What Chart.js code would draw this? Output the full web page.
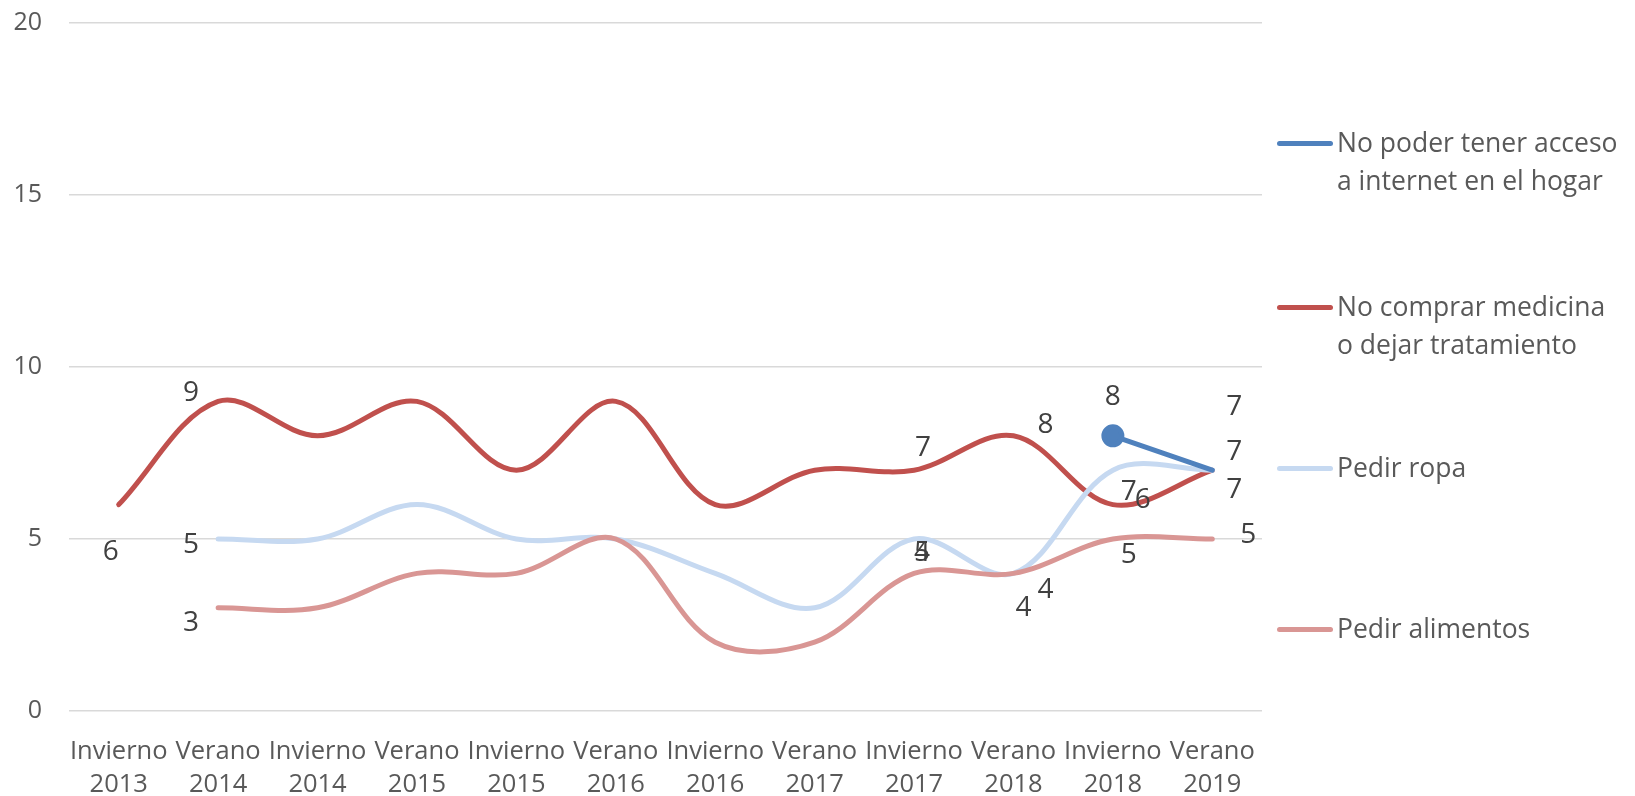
<!DOCTYPE html>
<html>
<head>
<meta charset="utf-8">
<script src="https://cdn.jsdelivr.net/npm/chart.js@4/dist/chart.umd.min.js"></script>
<style>
  body { margin: 0; background: #fff; overflow: hidden; }
  #wrap { position: relative; width: 1635px; height: 796px; overflow: hidden; }
  #chart { position: absolute; left: 0; top: -19px; }
  #legend { position: absolute; left: 1277px; top: 0; font-family: "Open Sans", sans-serif; font-size: 26.5px; color: #595959; }
  .item { position: absolute; left: 0; white-space: nowrap; display: flex; align-items: flex-start; }
  .swatch { width: 56px; height: 5px; border-radius: 3px; margin-top: 18px; margin-right: 4px; }
  .txt { line-height: 38px; }
</style>
</head>
<body>
<div id="wrap">
  <canvas id="chart" width="1635" height="815"></canvas>
  <div id="legend"></div>
</div>
<script>
const seasons = ['Invierno', 'Verano', 'Invierno', 'Verano', 'Invierno', 'Verano', 'Invierno', 'Verano', 'Invierno', 'Verano', 'Invierno', 'Verano'];
const years = ['2013', '2014', '2014', '2015', '2015', '2016', '2016', '2017', '2017', '2018', '2018', '2019'];

const internet = [null, null, null, null, null, null, null, null, null, null, 8, 7];
const medicina = [6, 9, 8, 9, 7, 9, 6, 7, 7, 8, 6, 7];
const ropa = [null, 5, 5, 6, 5, 5, 4, 3, 5, 4, 7, 7];
const alimentos = [null, 3, 3, 4, 4, 5, 2, 2, 4, 4, 5, 5];

const yTicks = [0, 5, 10, 15, 20];

const SERIES_NAMES = [
  ['No poder tener acceso', 'a internet en el hogar'],
  ['No comprar medicina', 'o dejar tratamiento'],
  ['Pedir ropa'],
  ['Pedir alimentos']
];
const COLORS = ['#4F81BD', '#C0504D', '#C6D9F1', '#D99694'];
const LEGEND_TOPS = [123, 287, 448, 609];

// which point labels are shown, and where they sit relative to the point
const labelSpots = [
  { ds: 1, i: 0, dx: -8, dy: 47 },
  { ds: 1, i: 1, dx: -27, dy: -8 },
  { ds: 2, i: 1, dx: -27, dy: 6 },
  { ds: 3, i: 1, dx: -27, dy: 15 },
  { ds: 1, i: 8, dx: 9, dy: -22 },
  { ds: 2, i: 8, dx: 8, dy: 14 },
  { ds: 3, i: 8, dx: 8, dy: -20 },
  { ds: 1, i: 9, dx: 32, dy: -11 },
  { ds: 2, i: 9, dx: 10, dy: 35 },
  { ds: 3, i: 9, dx: 32, dy: 17 },
  { ds: 0, i: 10, dx: 0, dy: -39 },
  { ds: 2, i: 10, dx: 16, dy: 22 },
  { ds: 1, i: 10, dx: 30, dy: -5 },
  { ds: 3, i: 10, dx: 16, dy: 16 },
  { ds: 0, i: 11, dx: 22, dy: -63 },
  { ds: 2, i: 11, dx: 22, dy: -18 },
  { ds: 1, i: 11, dx: 22, dy: 20 },
  { ds: 3, i: 11, dx: 36, dy: -4 }
];

const pointLabels = {
  id: 'pointLabels',
  afterDatasetsDraw(chart) {
    const ctx = chart.ctx;
    ctx.save();
    ctx.font = '28px "Open Sans", sans-serif';
    ctx.fillStyle = '#404040';
    ctx.textAlign = 'center';
    ctx.textBaseline = 'middle';
    labelSpots.forEach(s => {
      const pt = chart.getDatasetMeta(s.ds).data[s.i];
      const v = chart.data.datasets[s.ds].data[s.i];
      if (!pt || v == null) return;
      ctx.fillText(String(v), pt.x + s.dx, pt.y + s.dy);
    });
    ctx.restore();
  }
};

const lineDs = (label, data, color, order) => ({
  label,
  data,
  borderColor: color,
  backgroundColor: color,
  borderWidth: 5,
  borderCapStyle: 'round',
  tension: 0.35,
  pointRadius: 0,
  pointHoverRadius: 0,
  order
});

const dsInternet = lineDs(SERIES_NAMES[0].join(' '), internet, COLORS[0], 0);
dsInternet.tension = 0;
dsInternet.pointRadius = ctx => ctx.dataIndex === 10 ? 9 : 0;

new Chart(document.getElementById('chart'), {
  type: 'line',
  data: {
    labels: seasons.map((s, i) => [s, years[i]]),
    datasets: [
      dsInternet,
      lineDs(SERIES_NAMES[1].join(' '), medicina, COLORS[1], 3),
      lineDs(SERIES_NAMES[2].join(' '), ropa, COLORS[2], 2),
      lineDs(SERIES_NAMES[3].join(' '), alimentos, COLORS[3], 1)
    ]
  },
  options: {
    responsive: false,
    animation: false,
    layout: { padding: { top: 4, right: 373, left: 0, bottom: 0 } },
    plugins: { legend: { display: false }, tooltip: { enabled: false } },
    scales: {
      x: {
        offset: true,
        grid: { display: false, drawTicks: false },
        border: { display: false },
        ticks: {
          color: '#595959',
          font: { family: 'Open Sans', size: 25.5, lineHeight: 1.3 },
          padding: 24,
          maxRotation: 0,
          autoSkip: false
        },
        afterFit: s => { s.height = 85; }
      },
      y: {
        min: 0,
        max: 20,
        afterBuildTicks: s => { s.ticks = yTicks.map(v => ({ value: v })); },
        grid: { color: '#D9D9D9', lineWidth: 1.5, drawTicks: false },
        border: { display: false },
        ticks: {
          color: '#595959',
          font: { family: 'Open Sans', size: 25 },
          padding: 27
        },
        afterFit: s => { s.width = 69; }
      }
    }
  },
  plugins: [pointLabels]
});

const legendEl = document.getElementById('legend');
SERIES_NAMES.forEach((lines, k) => {
  const item = document.createElement('div');
  item.className = 'item';
  item.style.top = LEGEND_TOPS[k] + 'px';
  const sw = document.createElement('div');
  sw.className = 'swatch';
  sw.style.background = COLORS[k];
  const txt = document.createElement('div');
  txt.className = 'txt';
  txt.innerHTML = lines.join('<br>');
  item.appendChild(sw);
  item.appendChild(txt);
  legendEl.appendChild(item);
});
</script>
</body>
</html>
